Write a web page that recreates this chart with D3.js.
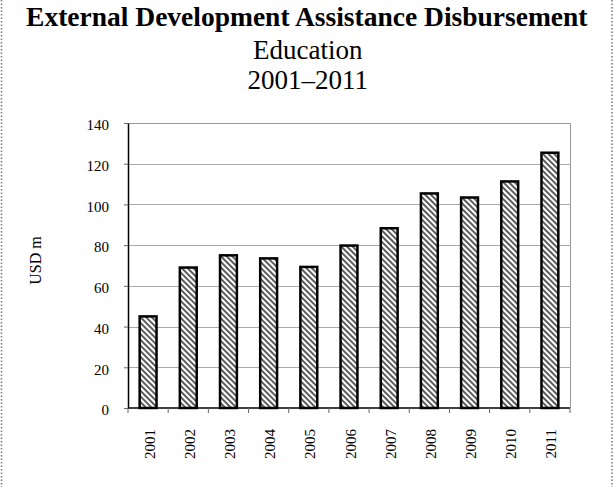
<!DOCTYPE html>
<html><head><meta charset="utf-8">
<script src="https://cdn.jsdelivr.net/npm/d3@7"></script>
<style>body{margin:0;background:#fff}svg{display:block}</style>
</head><body><svg id="c" width="613" height="487"></svg>
<script>
const years = ["2001","2002","2003","2004","2005","2006","2007","2008","2009","2010","2011"];
const values = [45, 69, 75, 73.5, 69.3, 79.8, 88.3, 105.4, 103.4, 111.3, 125.4];
const yTicks = [0,20,40,60,80,100,120,140];
const titleLines = ["External Development Assistance Disbursement","Education","2001–2011"];
const yLabel = "USD m";

const svg = d3.select("#c");
const W=613,H=487;
const m={l:128,t:123,r:570,b:408};
const serif = "'Liberation Serif','Times New Roman',serif";

// dotted side borders
svg.append("line").attr("x1",1.5).attr("x2",1.5).attr("y1",0).attr("y2",H).attr("stroke","#777").attr("stroke-width",1.5).attr("stroke-dasharray","1.5,2");
svg.append("line").attr("x1",612).attr("x2",612).attr("y1",0).attr("y2",H).attr("stroke","#777").attr("stroke-width",1.5).attr("stroke-dasharray","1.5,2");

// titles
const tx = 306.8;
svg.append("text").attr("x",tx).attr("y",26).attr("text-anchor","middle").attr("font-family",serif).attr("font-weight","bold").attr("font-size",27.5).text(titleLines[0]);
svg.append("text").attr("x",tx+1).attr("y",59.3).attr("text-anchor","middle").attr("font-family",serif).attr("font-size",27).text(titleLines[1]);
svg.append("text").attr("x",tx+1).attr("y",89.3).attr("text-anchor","middle").attr("font-family",serif).attr("font-size",27).text(titleLines[2]);

const defs = svg.append("defs");
const pat = defs.append("pattern").attr("id","hatch").attr("patternUnits","userSpaceOnUse").attr("width",4).attr("height",4).attr("patternTransform","rotate(45)");
pat.append("rect").attr("width",4).attr("height",4).attr("fill","#fff");
pat.append("line").attr("x1",0).attr("x2",4).attr("y1",1).attr("y2",1).attr("stroke","#333").attr("stroke-width",1.6);

const x = d3.scaleBand().domain(years).range([m.l,m.r]).paddingInner(0.58).paddingOuter(0.29);
const xb = d3.scaleBand().domain(years).range([m.l,m.r]);
const y = d3.scaleLinear().domain([0,140]).range([m.b,m.t]);

// gridlines
svg.append("g").selectAll("line").data(yTicks.filter(d=>d>0)).join("line")
  .attr("x1",m.l).attr("x2",m.r).attr("y1",d=>Math.round(y(d))+0.5).attr("y2",d=>Math.round(y(d))+0.5)
  .attr("stroke",d=>d===140?"#999":"#aaa").attr("stroke-width",1);
// right border
svg.append("line").attr("x1",m.r+0.5).attr("x2",m.r+0.5).attr("y1",m.t).attr("y2",m.b).attr("stroke","#999");

// bars
svg.append("g").selectAll("rect").data(values).join("rect")
  .attr("x",(d,i)=>x(years[i])).attr("width",x.bandwidth())
  .attr("y",d=>y(d)).attr("height",d=>y(0)-y(d))
  .attr("fill","url(#hatch)").attr("stroke","#000").attr("stroke-width",2.5);

// y axis
const ya = svg.append("g").attr("transform",`translate(${m.l},0)`).call(d3.axisLeft(y).tickValues(yTicks).tickSize(4).tickSizeOuter(0).tickPadding(15));
ya.select(".domain").attr("stroke","#000").attr("stroke-width",1.5);
ya.selectAll(".tick line").attr("stroke","#666");
ya.selectAll("text").attr("font-family",serif).attr("font-size",15).attr("fill","#000").attr("dy","0.45em");

// x axis
const xa = svg.append("g").attr("transform",`translate(0,${m.b})`);
xa.append("line").attr("x1",m.l).attr("x2",m.r).attr("y1",0).attr("y2",0).attr("stroke","#000").attr("stroke-width",1.5);
xa.selectAll(".tk").data(years.concat(["end"])).join("line")
  .attr("x1",(d,i)=>m.l+i*xb.step()).attr("x2",(d,i)=>m.l+i*xb.step()).attr("y1",0).attr("y2",5).attr("stroke","#666");
xa.selectAll(".lb").data(years).join("text")
  .attr("transform",d=>`translate(${xb(d)+xb.bandwidth()/2+6.5},${21}) rotate(-90)`)
  .attr("text-anchor","end").attr("font-family",serif).attr("font-size",15).text(d=>d);

// y label
svg.append("text").attr("transform",`translate(41,260.5) rotate(-90)`).attr("text-anchor","middle")
  .attr("font-family",serif).attr("font-size",16).text(yLabel);
</script></body></html>
